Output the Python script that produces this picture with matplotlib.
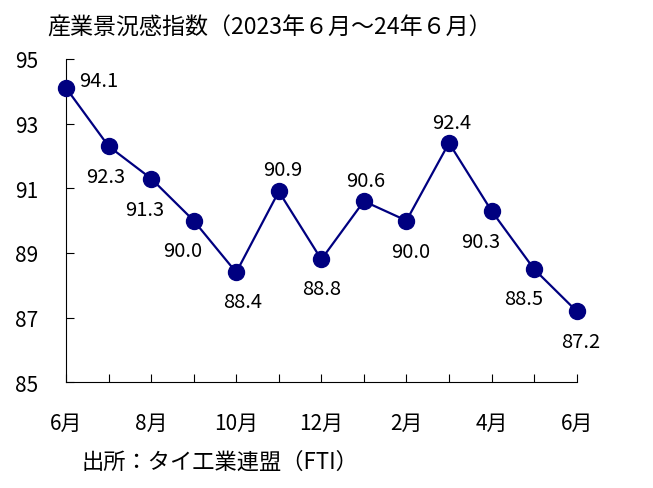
import numpy as np
import matplotlib
matplotlib.use("Agg")
import matplotlib.pyplot as plt

plt.rcParams['font.family'] = ['Noto Sans CJK JP', 'DejaVu Sans']

months = ['6月', '7月', '8月', '9月', '10月', '11月', '12月',
          '1月', '2月', '3月', '4月', '5月', '6月']
values = [94.1, 92.3, 91.3, 90.0, 88.4, 90.9, 88.8, 90.6, 90.0, 92.4, 90.3, 88.5, 87.2]
yticks = [85, 87, 89, 91, 93, 95]
title = '産業景況感指数（2023年６月～24年６月）'
source = '出所：タイ工業連盟（FTI）'

# where each value label sits relative to its point (pixels)
offs = [(33, 10), (-3, -28), (-6, -28), (-11, -27), (6, -27), (4, 24), (0, -27),
        (2, 23), (4, -28), (3, 23), (-11, -28), (-10, -27), (4, -28)]

fig = plt.figure(figsize=(6.53, 4.89), dpi=100)
ax = fig.add_axes([0.1011, 0.216, 0.782, 0.6616])

x = np.arange(len(values))
ax.plot(x, values, color='#000080', lw=1.6, marker='o', markersize=11.5,
        clip_on=False, zorder=3)

for xi, v, (dx, dy) in zip(x, values, offs):
    ax.annotate(f'{v:.1f}', (xi, v), xytext=(dx, dy), textcoords='offset pixels',
                ha='center', va='center_baseline', fontsize=14.5)

ax.set_xlim(0, len(values) - 1)
ax.set_ylim(85, 95)
ax.set_yticks(yticks)
ax.set_xticks(x)
ax.set_xticklabels([m if i % 2 == 0 else '' for i, m in enumerate(months)])
ax.tick_params(direction='in', length=6, labelsize=15, color='black')
ax.tick_params(axis='y', pad=20)
ax.tick_params(axis='x', pad=21)
for s in ['top', 'right']:
    ax.spines[s].set_visible(False)

fig.text(0.072, 0.943, title, fontsize=16.6, va='center')
fig.text(0.125, 0.054, source, fontsize=16, va='center')

fig.savefig('out.png', dpi=100)
